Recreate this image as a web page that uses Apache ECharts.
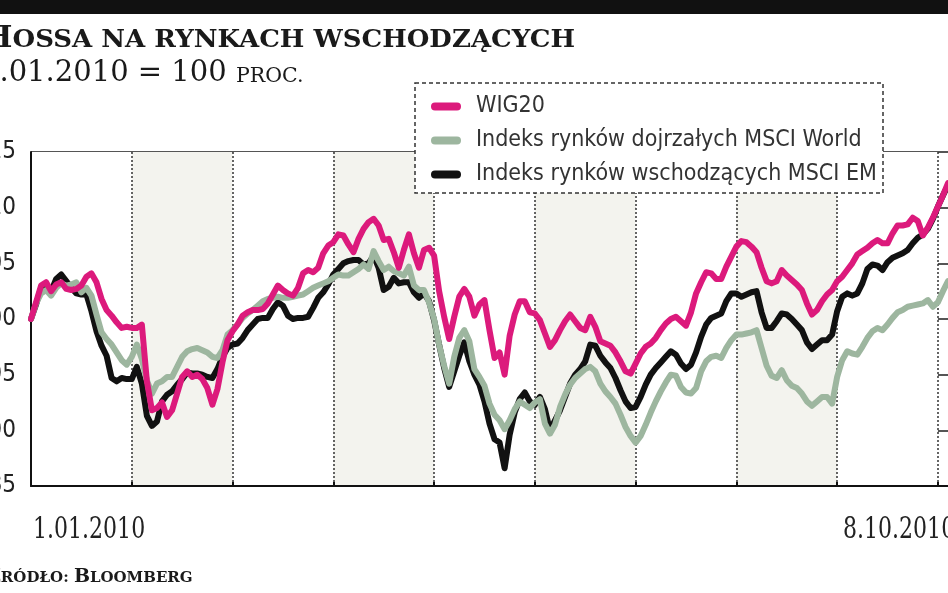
<!DOCTYPE html>
<html>
<head>
<meta charset="utf-8">
<script src="https://cdn.jsdelivr.net/npm/echarts@6/dist/echarts.min.js"></script>
<style>
html, body { margin: 0; padding: 0; background: #ffffff; }
#chart { width: 948px; height: 593px; }
</style>
</head>
<body>
<div id="chart"></div>
<script>
// ---- data (index 1.01.2010 = 100) at regular session steps ----
const seriesNames = ['WIG20', 'Indeks rynków dojrzałych MSCI World', 'Indeks rynków wschodzących MSCI EM'];

const wig20 = [
  100.0,101.5,103.0,103.3,102.5,103.1,103.3,102.7,102.6,102.7,
  103.0,103.8,104.1,103.3,101.8,100.8,100.3,99.7,99.2,99.3,
  99.2,99.2,99.5,94.4,91.8,92.0,92.5,91.2,91.8,93.3,
  94.8,95.3,94.8,95.0,94.6,93.8,92.3,93.7,96.1,98.1,
  98.9,99.5,100.3,100.6,100.8,100.8,100.9,101.4,102.2,103.0,
  102.6,102.3,102.1,102.8,104.1,104.4,104.2,104.6,105.9,106.6,
  106.9,107.6,107.5,106.7,106.0,107.2,108.1,108.7,109.0,108.4,
  107.1,107.2,106.0,104.6,106.2,107.6,105.9,104.6,106.2,106.4,
  105.7,102.5,100.2,98.2,100.2,102.0,102.7,102.0,100.3,101.3,
  101.7,99.0,96.5,97.0,95.0,98.5,100.4,101.6,101.6,100.6,
  100.5,99.9,98.7,97.5,98.1,99.0,99.8,100.4,99.8,99.2,
  99.0,100.2,99.3,98.0,97.8,97.6,97.0,96.2,95.3,95.1,
  96.0,96.9,97.5,97.8,98.3,99.0,99.6,100.0,100.2,99.8,
  99.4,100.6,102.3,103.3,104.2,104.1,103.6,103.6,104.7,105.6,
  106.5,107.0,106.9,106.5,106.0,104.6,103.4,103.2,103.4,104.4,
  103.9,103.5,103.1,102.6,101.4,100.4,100.8,101.6,102.2,102.6,
  103.4,103.8,104.4,105.0,105.8,106.1,106.4,106.8,107.1,106.8,
  106.8,107.7,108.4,108.4,108.5,109.1,108.8,107.5,108.2,109.1,
  110.1,111.1,112.2];

const msciWorld = [
  100.0,101.4,102.3,102.6,102.1,102.8,103.2,103.0,103.1,103.3,
  102.4,102.8,102.1,100.4,98.8,98.2,97.7,97.0,96.3,95.9,
  96.6,97.7,96.4,94.5,93.3,94.2,94.4,94.8,94.8,95.7,
  96.6,97.1,97.3,97.4,97.2,97.0,96.6,96.5,97.2,98.6,
  99.0,99.5,100.1,100.5,100.8,101.2,101.6,101.8,101.9,102.0,
  101.9,101.9,102.0,102.1,102.2,102.5,102.8,103.0,103.2,103.4,
  103.7,104.0,103.9,103.9,104.2,104.5,104.9,104.5,106.1,105.2,
  104.4,104.7,104.3,104.1,103.9,104.7,103.0,102.6,102.6,101.5,
  100.0,97.7,95.8,94.2,96.6,98.3,99.0,98.0,95.5,94.8,
  94.0,92.4,91.4,90.9,90.1,90.9,91.9,92.6,92.3,92.0,
  92.5,92.8,90.6,89.7,90.5,92.1,93.2,94.1,94.7,95.1,
  95.5,95.7,95.3,94.2,93.5,93.0,92.4,91.4,90.3,89.5,
  88.9,89.5,90.5,91.6,92.6,93.5,94.3,95.0,94.9,93.9,
  93.4,93.3,93.8,95.3,96.2,96.6,96.7,96.5,97.4,98.1,
  98.6,98.6,98.7,98.8,99.0,97.4,95.8,94.9,94.7,95.4,
  94.5,94.0,93.8,93.3,92.6,92.2,92.6,93.0,93.0,92.4,
  94.8,96.3,97.1,96.9,96.8,97.5,98.3,98.9,99.2,99.0,
  99.5,100.1,100.6,100.8,101.1,101.2,101.3,101.4,101.7,101.1,
  101.5,102.5,103.4];

const msciEM = [
  100.0,101.3,102.8,103.0,102.5,103.6,104.0,103.4,102.8,102.3,
  102.2,102.2,100.7,98.9,97.6,96.7,94.7,94.4,94.7,94.6,
  94.6,95.7,94.2,91.3,90.4,90.8,92.6,93.2,93.5,94.1,
  94.6,95.2,95.1,95.1,95.0,94.8,94.7,95.5,96.6,97.4,
  97.7,97.8,98.3,99.0,99.5,100.0,100.1,100.1,100.9,101.5,
  101.2,100.3,100.0,100.1,100.1,100.2,101.0,101.9,102.4,103.1,
  104.0,104.5,105.0,105.2,105.3,105.3,104.9,105.0,105.7,104.6,
  102.6,102.9,103.7,103.2,103.3,103.3,102.4,101.9,102.3,101.6,
  99.9,97.7,95.6,93.9,95.3,96.7,97.9,96.2,95.0,94.1,
  92.6,90.6,89.2,88.9,86.6,89.6,91.6,92.8,93.4,92.6,
  92.3,93.0,91.9,90.0,90.9,91.8,93.0,94.2,95.0,95.5,
  96.2,97.7,97.6,96.7,96.1,95.6,94.7,93.6,92.6,92.0,
  92.1,93.0,94.1,95.0,95.6,96.1,96.6,97.1,96.8,96.0,
  95.5,95.9,97.0,98.4,99.5,100.1,100.3,100.5,101.6,102.3,
  102.3,102.0,102.2,102.4,102.5,100.6,99.2,99.2,99.8,100.5,
  100.4,100.0,99.5,99.0,97.9,97.3,97.7,98.1,98.1,98.6,
  100.7,102.0,102.3,102.1,102.3,103.2,104.5,104.9,104.8,104.4,
  105.1,105.5,105.7,105.9,106.2,106.8,107.3,107.6,108.1,109.0,
  110.1,111.1,112.0];

const sessions = wig20.map((_, i) => String(i + 1));
const dateLabels = ['1.01.2010', '8.10.2010'];
const titleText = ['H', 'OSSA NA RYNKACH WSCHODZĄCYCH'];
const subtitleText = ['1.01.2010 = 100 ', 'PROC.'];
const sourceText = ['Ź', 'RÓDŁO: ', 'B', 'LOOMBERG'];

// ---- styling ----
const NARROW = "'Liberation Sans Narrow', 'DejaVu Sans Condensed', 'Liberation Sans', sans-serif";
const SERIF = "'DejaVu Serif', serif";
const colors = ['#dc1a7c', '#9db69f', '#111111'];
const capsule = 'path://M4,0 L26,0 A4,4 0 0 1 26,8 L4,8 A4,4 0 0 1 4,0 Z';
const GRID_STEP = 20; // sessions between vertical guide lines

const chart = echarts.init(document.getElementById('chart'), null, { renderer: 'canvas' });

function lineSeries(name, data, color, z) {
  return {
    name: name, type: 'line', data: data, showSymbol: false, symbol: 'none',
    color: color, z: z, smooth: false,
    lineStyle: { width: 6, color: color, join: 'round', cap: 'round' },
    emphasis: { disabled: true }
  };
}

const option = {
  animation: false,
  backgroundColor: '#ffffff',
  grid: { left: 31, right: 0, top: 152, bottom: 107, containLabel: false, outerBoundsMode: 'none' },
  xAxis: {
    type: 'category', data: sessions, boundaryGap: false,
    axisLine: { show: true, lineStyle: { color: '#111', width: 2 } },
    axisTick: { show: true, inside: true, length: 4, interval: GRID_STEP - 1, lineStyle: { color: '#111', width: 2 } },
    axisLabel: { show: false },
    splitLine: { show: true, interval: GRID_STEP - 1, lineStyle: { color: '#333', width: 1.5, type: [2, 2] } },
    splitArea: { show: true, interval: GRID_STEP - 1, areaStyle: { color: ['#ffffff', '#f3f3ee'] } }
  },
  yAxis: {
    type: 'value', min: 85, max: 115, interval: 5,
    axisLine: { show: true, lineStyle: { color: '#111', width: 2 } },
    axisTick: { show: false },
    axisLabel: { margin: 15, fontSize: 24, color: '#222', fontFamily: NARROW },
    splitLine: { show: true, lineStyle: { color: '#555', width: 2, type: 'solid' } }
  },
  legend: {
    data: seriesNames,
    orient: 'vertical', left: 426, top: 89,
    itemWidth: 30, itemHeight: 9, itemGap: 9,
    icon: capsule, selectedMode: false, z: 60,
    textStyle: { fontSize: 23, lineHeight: 25, color: '#333', fontFamily: NARROW, padding: [0, 0, 0, 10] }
  },
  graphic: [
    { type: 'rect', z: 40, shape: { x: 0, y: 0, width: 948, height: 14 }, style: { fill: '#111' } },
    { type: 'text', z: 40, x: -17, y: 22, scaleX: 1.04,
      style: {
        text: '{a|' + titleText[0] + '}{b|' + titleText[1] + '}',
        rich: {
          a: { fontSize: 30, fontWeight: 'bold', fontFamily: SERIF, fill: '#1a1a1a', verticalAlign: 'bottom', lineHeight: 32 },
          b: { fontSize: 25, fontWeight: 'bold', fontFamily: SERIF, fill: '#1a1a1a', verticalAlign: 'bottom', lineHeight: 32, padding: [0, 0, 1, 0] }
        }
      } },
    { type: 'text', z: 40, x: -19, y: 57,
      style: {
        text: '{a|' + subtitleText[0] + '}{b|' + subtitleText[1] + '}',
        rich: {
          a: { fontSize: 29, fontFamily: SERIF, fill: '#1a1a1a', verticalAlign: 'bottom', lineHeight: 31 },
          b: { fontSize: 20.5, fontFamily: SERIF, fill: '#1a1a1a', verticalAlign: 'bottom', lineHeight: 31, padding: [0, 0, 1, 0] }
        }
      } },
    { type: 'rect', z: 50, shape: { x: 415, y: 83, width: 468, height: 110 },
      style: { fill: '#ffffff', stroke: '#333', lineWidth: 1.5, lineDash: [4, 3] } },
    { type: 'text', z: 40, x: 33, y: 516, scaleX: 0.76,
      style: { text: dateLabels[0], fontSize: 29, fontFamily: SERIF, fill: '#222' } },
    { type: 'text', z: 40, x: 843, y: 516, scaleX: 0.76,
      style: { text: dateLabels[1], fontSize: 29, fontFamily: SERIF, fill: '#222' } },
    { type: 'text', z: 40, x: -13, y: 565,
      style: {
        text: '{a|' + sourceText[0] + '}{b|' + sourceText[1] + '}{a|' + sourceText[2] + '}{b|' + sourceText[3] + '}',
        rich: {
          a: { fontSize: 19, fontWeight: 'bold', fontFamily: SERIF, fill: '#1a1a1a', verticalAlign: 'bottom', lineHeight: 22 },
          b: { fontSize: 15, fontWeight: 'bold', fontFamily: SERIF, fill: '#1a1a1a', verticalAlign: 'bottom', lineHeight: 22, padding: [0, 0, 1, 0] }
        }
      } }
  ],
  series: [
    lineSeries(seriesNames[2], msciEM, colors[2], 2),
    lineSeries(seriesNames[1], msciWorld, colors[1], 3),
    lineSeries(seriesNames[0], wig20, colors[0], 4)
  ]
};

chart.setOption(option);
</script>
</body>
</html>
